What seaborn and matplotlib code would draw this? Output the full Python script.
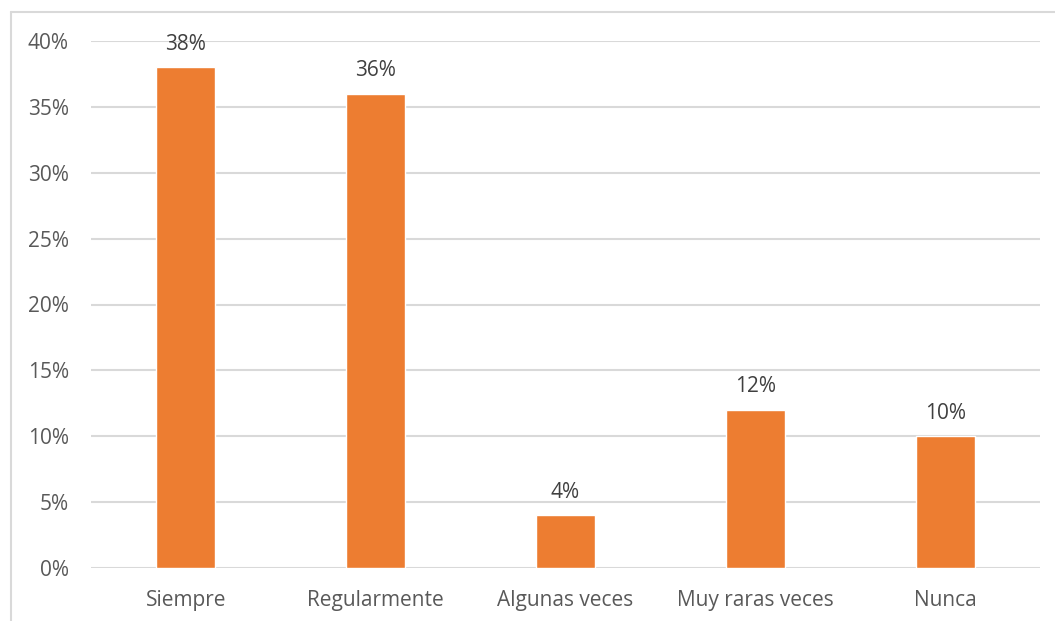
import matplotlib
matplotlib.use("Agg")
import matplotlib.pyplot as plt
import seaborn as sns
import pandas as pd
from matplotlib.lines import Line2D

categories = ["Siempre", "Regularmente", "Algunas veces", "Muy raras veces", "Nunca"]
values = [0.38, 0.36, 0.04, 0.12, 0.10]
yticks = [0, 0.05, 0.10, 0.15, 0.20, 0.25, 0.30, 0.35, 0.40]
ytick_labels = ["0%", "5%", "10%", "15%", "20%", "25%", "30%", "35%", "40%"]

sns.set_theme(style="white")
plt.rcParams['font.family'] = ['Open Sans', 'DejaVu Sans']

df = pd.DataFrame({"cat": categories, "val": values})
fig = plt.figure(figsize=(10.55, 6.21), dpi=100)
ax = fig.add_axes([91/1055, 53/621, (1040-91)/1055, (568-41)/621])
sns.barplot(data=df, x="cat", y="val", color="#ED7D31", width=0.31, ax=ax, saturation=1)
ax.set_ylim(0, 0.40)
ax.set_yticks(yticks)
ax.set_yticklabels(ytick_labels)
ax.yaxis.grid(True, color="#D9D9D9", linewidth=1.5)
ax.set_axisbelow(True)
for s in ax.spines.values():
    s.set_visible(False)
ax.set_xlabel("")
ax.set_ylabel("")
ax.tick_params(axis="both", length=0, labelsize=15, colors="#595959")
ax.tick_params(axis="y", pad=16)
ax.tick_params(axis="x", pad=16)
for i, v in enumerate(values):
    ax.annotate(f"{round(v*100)}%", (i, v), xytext=(0, 9), textcoords="offset points",
                ha="center", va="bottom", fontsize=15, color="#404040")
# outer border (left and top)
fig.add_artist(Line2D([11/1055, 11/1055], [0, 1 - 12/621], transform=fig.transFigure, color="#D9D9D9", lw=1.5))
fig.add_artist(Line2D([11/1055, 1], [1 - 12/621, 1 - 12/621], transform=fig.transFigure, color="#D9D9D9", lw=1.5))
fig.savefig("out.png", dpi=100)
